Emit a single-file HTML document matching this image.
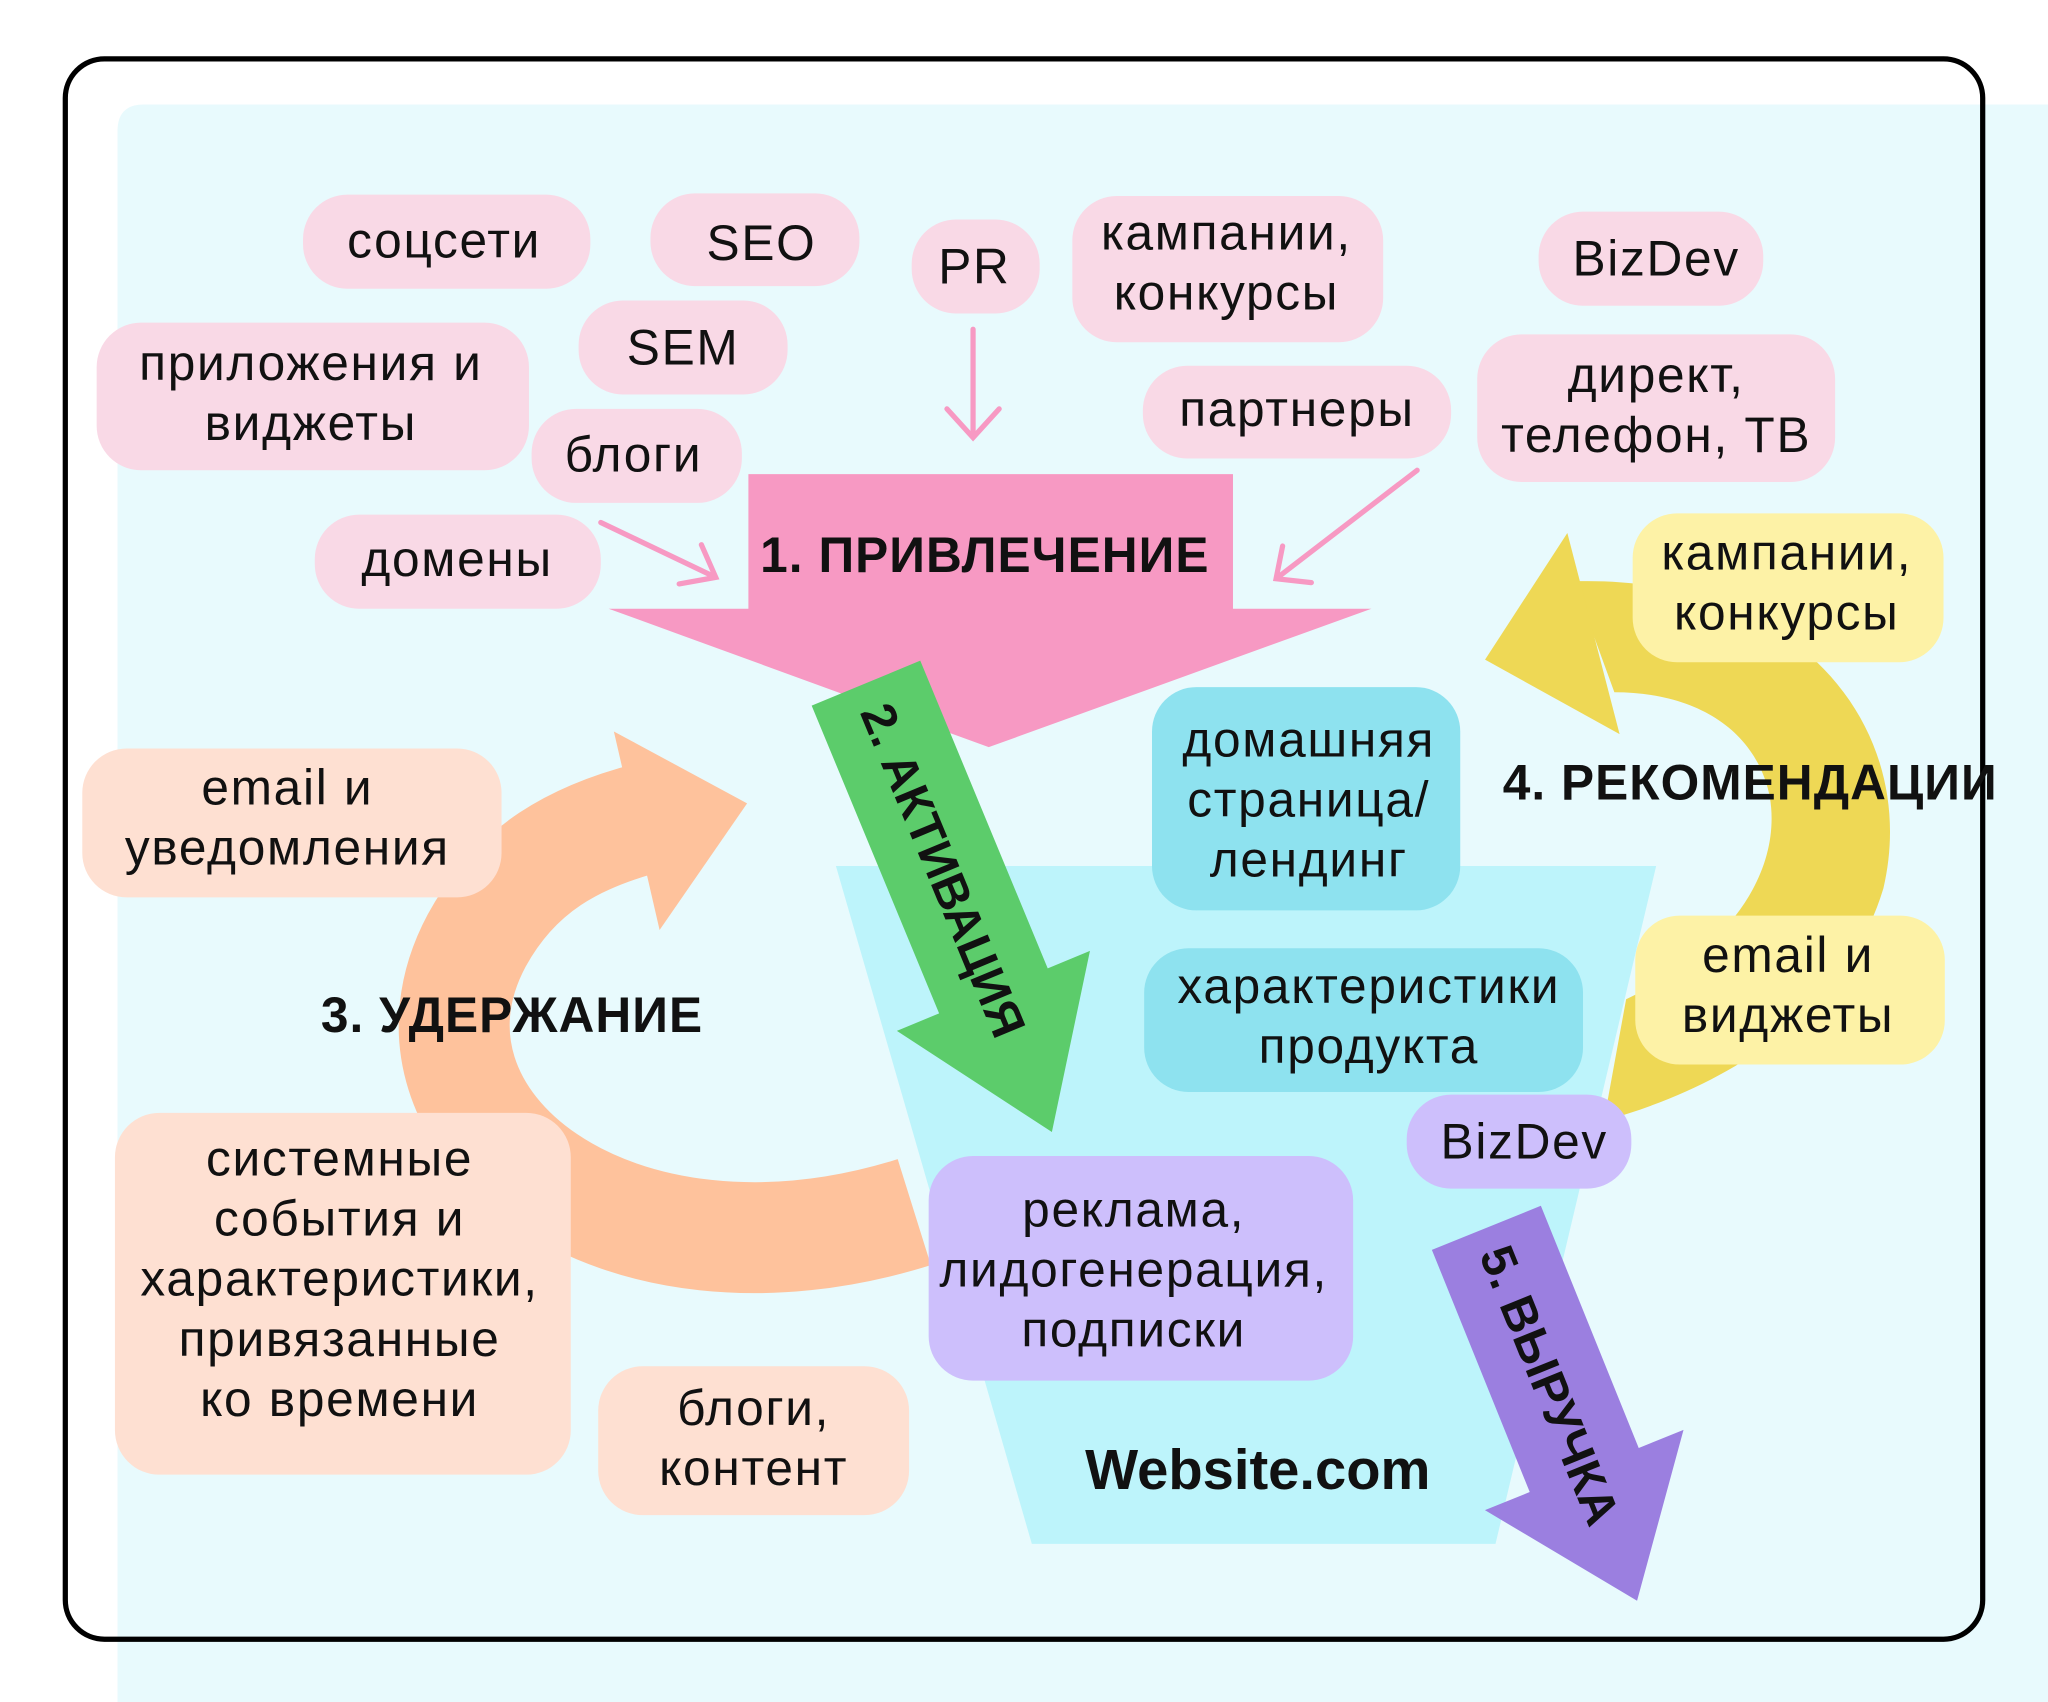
<!DOCTYPE html>
<html><head><meta charset="utf-8"><style>
html,body{margin:0;padding:0;background:#fff;}
svg{display:block;}
text{font-family:"Liberation Sans","DejaVu Sans",sans-serif;fill:#111;}
.t{font-size:38px;text-anchor:middle;letter-spacing:1.3px;}
.b{font-size:38px;font-weight:bold;text-anchor:middle;letter-spacing:0.8px;}
</style></head><body>
<svg width="2048" height="1702" viewBox="0 0 1568 1303" xmlns="http://www.w3.org/2000/svg">
<rect x="0" y="0" width="1568" height="1303" fill="#fff"/>
<path d="M110,80 H1568 V1303 H90 V100 Q90,80 110,80Z" fill="#e8fafd"/>
<rect x="50" y="45" width="1468" height="1210" rx="30" fill="none" stroke="#000" stroke-width="4"/>

<polygon points="640,663 1268,663 1145,1182 790,1182" fill="#bdf4fb"/>

<!-- peach arrow -->
<path d="M700,928 C470,1000 290,860 365,720 C395,665 440,640 500,625" fill="none" stroke="#fec29c" stroke-width="85"/>
<polygon points="470,560 572,615 505,712" fill="#fec29c"/>

<!-- yellow arrow -->
<path d="M1205,445 C1380,440 1470,560 1442,680 C1415,770 1330,830 1228,858 L1245,765 C1320,730 1365,670 1355,610 C1345,560 1300,530 1236,530 Z" fill="#eed855"/>
<polygon points="1200,408 1137,505 1240,562" fill="#eed855"/>

<polygon points="573,363 944,363 944,466 1050,466 757,572 466,466 573,466" fill="#f799c3"/>
<text class="b" x="754" y="438">1. ПРИВЛЕЧЕНИЕ</text>

<g stroke="#f799c3" stroke-width="4" fill="none" stroke-linecap="round">
<path d="M745,252 V335 M725,313 L745,335 L765,313"/>
<path d="M460,400 L548,442 M537,417 L548,442 L520,447"/>
<path d="M1085,360 L977,443 M982,418 L977,443 L1004,446"/>
</g>

<g transform="translate(663,523) rotate(67.5)">
<polygon points="0,-45 255,-45 255,-80 372,0 255,80 255,45 0,45" fill="#5ccc6b"/>
<text x="155" y="13" style="font-size:37px;font-weight:bold;text-anchor:middle">2. АКТИВАЦИЯ</text>
</g>

<g transform="translate(1138,940) rotate(68)">
<polygon points="0,-45 200,-45 200,-82 308,0 200,82 200,45 0,45" fill="#9b7fe0"/>
<text x="130" y="13" style="font-size:37px;font-weight:bold;text-anchor:middle">5. ВЫРУЧКА</text>
</g>

<g fill="#f9d9e6">
<rect x="232" y="149" width="220" height="72" rx="34"/>
<rect x="498" y="148" width="160" height="71" rx="34"/>
<rect x="698" y="168" width="98" height="72" rx="34"/>
<rect x="821" y="150" width="238" height="112" rx="34"/>
<rect x="1178" y="162" width="172" height="72" rx="34"/>
<rect x="74" y="247" width="331" height="113" rx="34"/>
<rect x="443" y="230" width="160" height="72" rx="34"/>
<rect x="875" y="280" width="236" height="71" rx="34"/>
<rect x="1131" y="256" width="274" height="113" rx="34"/>
<rect x="407" y="313" width="161" height="72" rx="34"/>
<rect x="241" y="394" width="219" height="72" rx="34"/>
</g>
<text class="t" x="340" y="197">соцсети</text>
<text class="t" x="583" y="199">SEO</text>
<text class="t" x="746" y="217">PR</text>
<text class="t" x="939" y="191">кампании,</text>
<text class="t" x="939" y="237">конкурсы</text>
<text class="t" x="1268" y="211">BizDev</text>
<text class="t" x="238" y="291">приложения и</text>
<text class="t" x="238" y="337">виджеты</text>
<text class="t" x="523" y="279">SEM</text>
<text class="t" x="993" y="326">партнеры</text>
<text class="t" x="1268" y="300">директ,</text>
<text class="t" x="1268" y="346">телефон, ТВ</text>
<text class="t" x="485" y="361">блоги</text>
<text class="t" x="350" y="441">домены</text>

<g fill="#8ee2ef">
<rect x="882" y="526" width="236" height="171" rx="34"/>
<rect x="876" y="726" width="336" height="110" rx="34"/>
</g>
<text class="t" x="1002" y="579">домашняя</text>
<text class="t" x="1002" y="625">страница/</text>
<text class="t" x="1002" y="671">лендинг</text>
<text class="t" x="1048" y="768">характеристики</text>
<text class="t" x="1048" y="814">продукта</text>

<g fill="#cdbffc">
<rect x="1077" y="838" width="172" height="72" rx="34"/>
<rect x="711" y="885" width="325" height="172" rx="34"/>
</g>
<text class="t" x="1167" y="887">BizDev</text>
<text class="t" x="868" y="939">реклама,</text>
<text class="t" x="868" y="985">лидогенерация,</text>
<text class="t" x="868" y="1031">подписки</text>

<g fill="#fee0d2">
<rect x="63" y="573" width="321" height="114" rx="34"/>
<rect x="88" y="852" width="349" height="277" rx="34"/>
<rect x="458" y="1046" width="238" height="114" rx="34"/>
</g>
<text class="t" x="220" y="616">email и</text>
<text class="t" x="220" y="662">уведомления</text>
<text class="t" x="260" y="900">системные</text>
<text class="t" x="260" y="946">события и</text>
<text class="t" x="260" y="992">характеристики,</text>
<text class="t" x="260" y="1038">привязанные</text>
<text class="t" x="260" y="1084">ко времени</text>
<text class="t" x="577" y="1091">блоги,</text>
<text class="t" x="577" y="1137">контент</text>

<g fill="#fdf2a6">
<rect x="1250" y="393" width="238" height="114" rx="34"/>
<rect x="1252" y="701" width="237" height="114" rx="34"/>
</g>
<text class="t" x="1368" y="436">кампании,</text>
<text class="t" x="1368" y="482">конкурсы</text>
<text class="t" x="1369" y="744">email и</text>
<text class="t" x="1369" y="790">виджеты</text>

<text class="b" x="392" y="790">3. УДЕРЖАНИЕ</text>
<text class="b" x="1340" y="612">4. РЕКОМЕНДАЦИИ</text>
<text style="font-size:43px;font-weight:bold;text-anchor:middle" x="963" y="1140">Website.com</text>
</svg>
</body></html>
